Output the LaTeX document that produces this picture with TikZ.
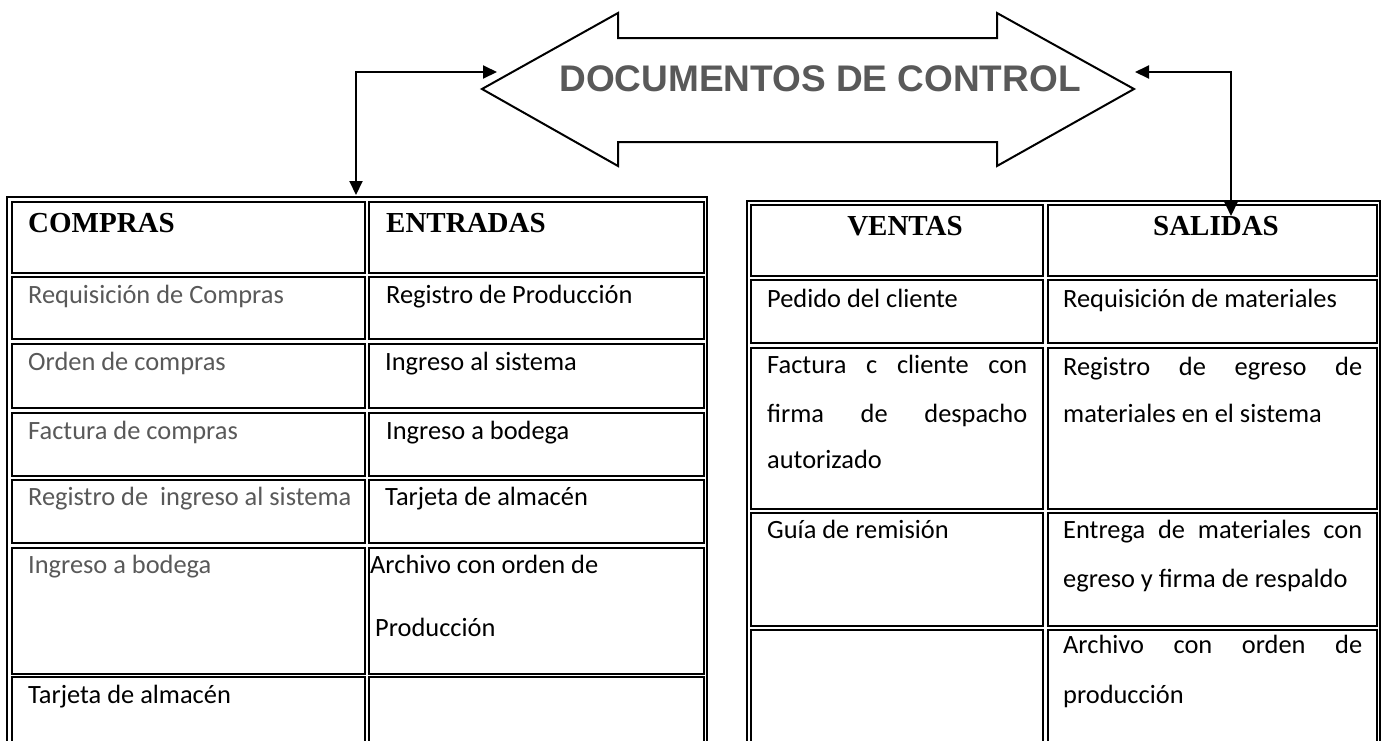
\documentclass[tikz,border=0pt]{standalone}
\usepackage{fontspec}
\setmainfont{Carlito}
\newfontfamily\headfont{Liberation Serif}
\newfontfamily\titlefont{Liberation Sans}
\usetikzlibrary{arrows.meta}
\definecolor{txtgray}{RGB}{89,89,89}
\newcommand{\spread}[2]{\makebox[#1][s]{#2}}

\tikzset{
	cell/.style={line width=1.6pt},
	bigarrow/.style={line width=2pt, line join=miter},
	conn/.style={line width=2pt, arrows={Triangle[length=14pt,width=13pt]-Triangle[length=14pt,width=13pt]}},
	txt/.style={anchor=base west, inner sep=0pt, font=\fontsize{26.4}{30}\selectfont},
	head/.style={anchor=base west, inner sep=0pt, font=\headfont\bfseries\fontsize{29}{32}\selectfont},
}

\begin{document}
\begin{tikzpicture}[x=1pt, y=-1pt]
		%%%%% START %%%%%
		\fill[white] (0, 0) rectangle (1382, 740);
		\useasboundingbox (0, 0) rectangle (1382, 740);
		\clip (0, 0) rectangle (1382, 740);
		
		% double arrow with the title
		\draw[bigarrow] (482, 89) -- (618, 13) -- (618, 38) -- (997, 38) -- (997, 13) -- (1134, 89)
			-- (997, 166) -- (997, 142) -- (618, 142) -- (618, 166) -- cycle;
		\node[anchor=base, inner sep=0pt, color=txtgray, font=\titlefont\bfseries\fontsize{37}{40}\selectfont] (titulo) at (820, 91) {DOCUMENTOS DE CONTROL};
		
		% left table
		\draw[cell] (7, 197) rectangle (707, 745);
		\foreach \t/\b in {202/273, 277/339, 344/408, 413/476, 480/543, 548/674, 677/745} {
			\draw[cell] (12, \t) rectangle (365, \b);
			\draw[cell] (369, \t) rectangle (704, \b);
		}
		
		\node[head] (compras) at (28, 232) {COMPRAS};
		\node[txt, color=txtgray] (reqcomp) at (28, 303) {Requisición de Compras};
		\node[txt, color=txtgray] (ordcomp) at (28, 370) {Orden de compras};
		\node[txt, color=txtgray] (faccomp) at (28, 439) {Factura de compras};
		\node[txt, color=txtgray] (regingr) at (28, 505) {Registro de\ \ ingreso al sistema};
		\node[txt, color=txtgray] (ingbod) at (28, 573) {Ingreso a bodega};
		\node[txt] (tarjcomp) at (28, 703) {Tarjeta de almacén};
		
		\node[head] (entradas) at (386, 232) {ENTRADAS};
		\node[txt] (regprod) at (386, 303) {Registro de Producción};
		\node[txt] (ingsis) at (385, 370) {Ingreso al sistema};
		\node[txt] (ingbodE) at (386, 439) {Ingreso a bodega};
		\node[txt] (tarjent) at (385, 505) {Tarjeta de almacén};
		\node[txt] (archent) at (370, 573) {Archivo con orden de};
		\node[txt] (archent2) at (375, 636) {Producción};
		
		% right table
		\draw[cell] (747, 201) rectangle (1380, 745);
		\foreach \t/\b in {205/276, 280/343, 348/509, 513/626, 630/745} {
			\draw[cell] (751, \t) rectangle (1043, \b);
			\draw[cell] (1048, \t) rectangle (1377, \b);
		}
		
		\node[head, anchor=base] (ventas) at (905, 235) {VENTAS};
		\node[txt] (pedido) at (767, 307) {Pedido del cliente};
		\node[txt] (factura) at (767, 373) {\spread{260pt}{Factura c cliente con}};
		\node[txt] (factura2) at (767, 422) {\spread{260pt}{firma de despacho}};
		\node[txt] (factura3) at (767, 468) {autorizado};
		\node[txt] (guia) at (767, 538) {Guía de remisión};
		
		\node[head, anchor=base] (salidas) at (1216, 235) {SALIDAS};
		\node[txt] (reqmat) at (1063, 307) {Requisición de materiales};
		\node[txt] (regegr) at (1063, 375) {\spread{299pt}{Registro de egreso de}};
		\node[txt] (regegr2) at (1063, 422) {materiales en el sistema};
		\node[txt] (entrega) at (1063, 538) {\spread{299pt}{Entrega de materiales con}};
		\node[txt] (entrega2) at (1063, 587) {egreso y firma de respaldo};
		\node[txt] (archsal) at (1063, 653) {\spread{299pt}{Archivo con orden de}};
		\node[txt] (archsal2) at (1063, 703) {producción};
		
		% connectors
		\coordinate (tipL) at (497, 72);
		\coordinate (comprasIn) at (356, 195);
		\coordinate (tipR) at (1135, 72);
		\coordinate (salidasIn) at (1231, 216);
		\draw[conn] (tipL) -| (comprasIn);
		\draw[conn] (tipR) -| (salidasIn);
		%%%%% END %%%%%
\end{tikzpicture}
\end{document}
